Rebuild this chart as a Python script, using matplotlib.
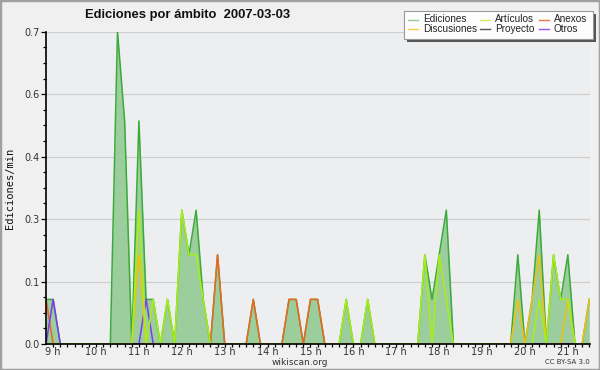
import numpy as np
import matplotlib
matplotlib.use("Agg")
import matplotlib.pyplot as plt
from matplotlib.lines import Line2D
from matplotlib.patches import Rectangle

# ---- data (10-minute bins starting 08:50) ----
start_hour = 8 + 50 / 60
step_minutes = 10

ediciones = [
    0.1, 0.1, 0, 0, 0, 0, 0, 0, 0, 0,
    0.7, 0.5, 0, 0.5, 0.1, 0.1, 0, 0.1, 0, 0.3,
    0.2, 0.3, 0.1, 0, 0.2, 0, 0, 0, 0, 0.1,
    0, 0, 0, 0, 0.1, 0.1, 0, 0.1, 0.1, 0,
    0, 0, 0.1, 0, 0, 0.1, 0, 0, 0, 0,
    0, 0, 0, 0.2, 0.1, 0.2, 0.3, 0, 0, 0,
    0, 0, 0, 0, 0, 0, 0.2, 0, 0.1, 0.3,
    0, 0.2, 0.1, 0.2, 0, 0, 0.1,
]
articulos = [
    0, 0, 0, 0, 0, 0, 0, 0, 0, 0,
    0, 0, 0, 0.3, 0, 0.1, 0, 0.1, 0, 0.3,
    0.2, 0.2, 0.1, 0, 0, 0, 0, 0, 0, 0,
    0, 0, 0, 0, 0, 0, 0, 0, 0, 0,
    0, 0, 0.1, 0, 0, 0.1, 0, 0, 0, 0,
    0, 0, 0, 0.2, 0, 0.2, 0.1, 0, 0, 0,
    0, 0, 0, 0, 0, 0, 0, 0, 0, 0.1,
    0, 0.2, 0.1, 0.1, 0, 0, 0,
]
discusiones = [
    0, 0, 0, 0, 0, 0, 0, 0, 0, 0,
    0, 0, 0, 0.2, 0, 0, 0, 0, 0, 0,
    0, 0, 0, 0, 0, 0, 0, 0, 0, 0,
    0, 0, 0, 0, 0, 0, 0, 0, 0, 0,
    0, 0, 0, 0, 0, 0, 0, 0, 0, 0,
    0, 0, 0, 0, 0, 0, 0, 0, 0, 0,
    0, 0, 0, 0, 0, 0, 0.1, 0, 0.1, 0.2,
    0, 0, 0, 0.1, 0, 0, 0.1,
]
anexos = [
    0.1, 0, 0, 0, 0, 0, 0, 0, 0, 0,
    0, 0, 0, 0, 0, 0, 0, 0, 0, 0,
    0, 0, 0, 0, 0.2, 0, 0, 0, 0, 0.1,
    0, 0, 0, 0, 0.1, 0.1, 0, 0.1, 0.1, 0,
    0, 0, 0, 0, 0, 0, 0, 0, 0, 0,
    0, 0, 0, 0, 0, 0, 0, 0, 0, 0,
    0, 0, 0, 0, 0, 0, 0, 0, 0, 0,
    0, 0, 0, 0, 0, 0, 0,
]
proyecto = [0] * 77
otros = [
    0, 0.1, 0, 0, 0, 0, 0, 0, 0, 0,
    0, 0, 0, 0, 0.1, 0, 0, 0, 0, 0,
    0, 0, 0, 0, 0, 0, 0, 0, 0, 0,
    0, 0, 0, 0, 0, 0, 0, 0, 0, 0,
    0, 0, 0, 0, 0, 0, 0, 0, 0, 0,
    0, 0, 0, 0, 0, 0, 0, 0, 0, 0,
    0, 0, 0, 0, 0, 0, 0, 0, 0, 0,
    0, 0, 0, 0, 0, 0, 0,
]

hour_ticks = list(range(9, 22))
hour_labels = [f"{h} h" for h in hour_ticks]

title = "Ediciones por ámbito  2007-03-03"
ylabel = "Ediciones/min"

hours = start_hour + np.arange(len(ediciones)) * step_minutes / 60

# ---- figure ----
W, H = 600, 370
fig = plt.figure(figsize=(W / 100, H / 100), dpi=100)
fig.patch.set_facecolor("#f0f0f0")

L, R, T, B = 46, 590, 31.7, 344
ax = fig.add_axes([L / W, 1 - B / H, (R - L) / W, (B - T) / H])
ax.set_facecolor("#edeef0")

ymax = 0.7
ax.set_ylim(0, ymax)
ax.set_xlim(start_hour, start_hour + 76.1 * step_minutes / 60)

yt = np.linspace(0, ymax, 6)
ax.set_yticks(yt)
ax.set_yticklabels([f"{v:.1f}" for v in yt])
ax.set_yticks(np.linspace(0, ymax, 21), minor=True)
ax.set_xticks(hour_ticks)
ax.set_xticklabels(hour_labels)
ax.set_xticks(np.arange(9, 21.6, 1 / 6), minor=True)

for v in yt[1:]:
    ax.axhline(v, color="#cfcfcf", lw=0.9, zorder=0.5)

ax.fill_between(hours, ediciones, 0, color="#9ccd9c", lw=0, zorder=1)
ax.plot(hours, ediciones, color="#3aab3a", lw=1.1, zorder=2)

series = [
    (proyecto, "#555555"),
    (anexos, "#ee6622"),
    (otros, "#7a3cf0"),
    (discusiones, "#f0c010"),
    (articulos, "#aaee14"),
]
for vals, col in series:
    ax.plot(hours, vals, color=col, lw=1.1, zorder=2.2)

for s in ["top", "right"]:
    ax.spines[s].set_visible(False)
for s in ["left", "bottom"]:
    ax.spines[s].set_color("black")
    ax.spines[s].set_linewidth(1.2)
    ax.spines[s].set_zorder(3)

ax.tick_params(axis="y", which="major", length=3.5, width=0.9, labelsize=7,
               colors="black", labelcolor="#333333", pad=1)
ax.tick_params(axis="y", which="minor", length=2, width=0.9, colors="black")
ax.tick_params(axis="x", which="major", length=2.5, width=0.9, labelsize=7,
               colors="black", labelcolor="#333333", pad=-0.5)
ax.tick_params(axis="x", which="minor", length=2.5, width=0.9, colors="black")

# ---- texts ----
fig.text(85 / W, 1 - 15 / H, title, fontsize=9.4, fontweight="bold",
         family="Liberation Sans", ha="left", va="center", color="#111111")
fig.text(10 / W, 1 - 188 / H, ylabel, rotation=90, fontsize=7.5,
         family="DejaVu Sans Mono", ha="center", va="center", color="#111111")
fig.text(300 / W, 1 - 362.5 / H, "wikiscan.org", fontsize=6.5,
         ha="center", va="center", color="#333333")
fig.text(590 / W, 1 - 362.5 / H, "CC BY-SA 3.0", fontsize=5,
         ha="right", va="center", color="#333333")

# ---- legend (drawn manually) ----
def fr(x, y):
    return x / W, 1 - y / H

bx0, by0, bx1, by1 = 404, 11.5, 593, 39
fig.patches.append(Rectangle(fr(bx0 + 3, by1 + 3), (bx1 - bx0) / W, (by1 - by0) / H,
                             transform=fig.transFigure, facecolor="#555555",
                             edgecolor="none", zorder=5))
fig.patches.append(Rectangle(fr(bx0, by1), (bx1 - bx0) / W, (by1 - by0) / H,
                             transform=fig.transFigure, facecolor="#fdfdfd",
                             edgecolor="#999999", lw=0.8, zorder=6))

legend_items = [
    ("Ediciones", "#8fd08f", 408, 19.5),
    ("Discusiones", "#f5d040", 408, 29),
    ("Artículos", "#cdef60", 480, 19.5),
    ("Proyecto", "#555555", 480, 29),
    ("Anexos", "#ee7744", 539, 19.5),
    ("Otros", "#9955ee", 539, 29),
]
for name, col, x, y in legend_items:
    x0, yy = fr(x, y)
    x1, _ = fr(x + 10, y)
    fig.lines.append(Line2D([x0, x1], [yy, yy], transform=fig.transFigure,
                            color=col, lw=1, zorder=7))
    tx, ty = fr(x + 15, y)
    fig.text(tx, ty, name, fontsize=7.2, family="Liberation Sans",
             ha="left", va="center", color="#222222", zorder=7)

# outer border
fig.patches.append(Rectangle((0, 0), 1, 1, transform=fig.transFigure,
                             facecolor="none", edgecolor="#a0a0a0", lw=2.5, zorder=10))

fig.savefig("out.png", dpi=100, facecolor=fig.get_facecolor())
